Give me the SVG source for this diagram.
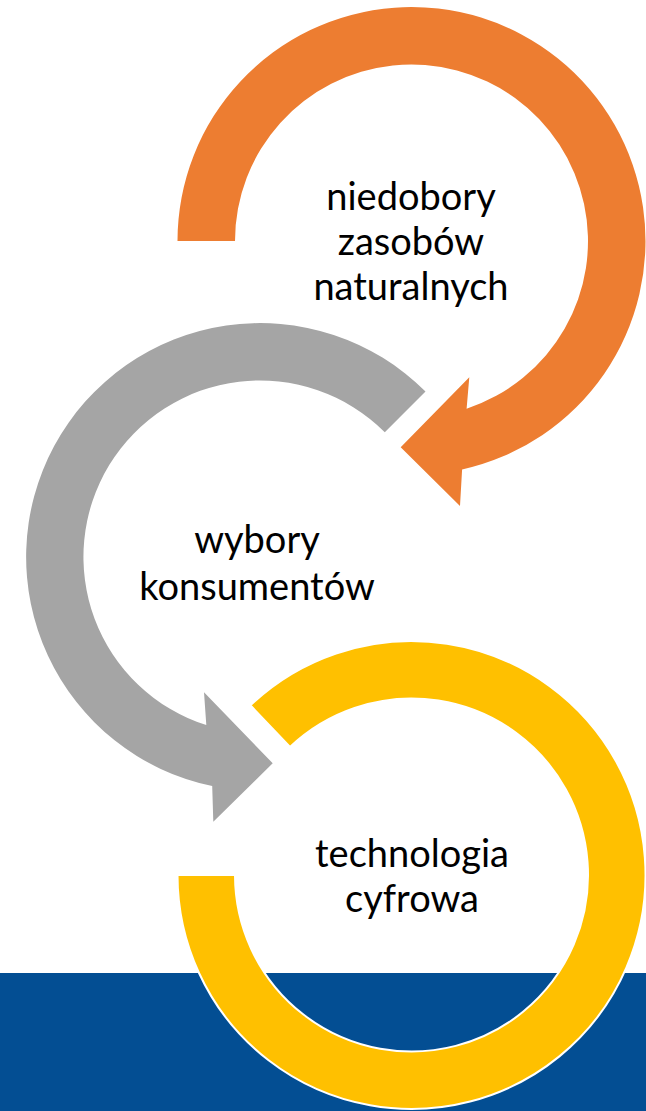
<svg xmlns="http://www.w3.org/2000/svg" width="646" height="1111" viewBox="0 0 646 1111">
  <style>
    .lbl { font-family: Lato, "Open Sans", "Liberation Sans", sans-serif; font-size: 38px; fill: #000000; text-anchor: middle; }
  </style>
  <rect x="0" y="0" width="646" height="1111" fill="#ffffff"/>
  <rect id="band" x="0" y="973" width="646" height="138" fill="#034E93"/>
  <g id="connectors">
    <path id="arrow-orange" fill="#ED7D31" d="M 177.5,241 A 234 234 0 1 1 462.1,469.5 L 460,506 L 400.7,447.3 L 469.3,377.3 L 466.6,408.7 A 176.5 176.5 0 1 0 235,241 Z"/>
    <path id="arrow-gray" fill="#A5A5A5" d="M 425.5,391.5 A 234 234 0 1 0 212.2,786.1 L 213.3,821.7 L 272.7,763.3 L 204,692.3 L 206.3,725.1 A 176.5 176.5 0 1 1 384.8,432.2 Z"/>
    <path id="arrow-yellow" fill="#FFC000" stroke="#ffffff" stroke-width="2" d="M 250.4,705.3 A 234 234 0 1 1 177.5,875 L 235,875 A 176.5 176.5 0 1 0 290,747 Z"/>
  </g>
  <g id="node-niedobory">
    <text class="lbl" x="411" y="210">niedobory</text>
    <text class="lbl" x="411" y="255">zasobów</text>
    <text class="lbl" x="411" y="300">naturalnych</text>
  </g>
  <g id="node-wybory">
    <text class="lbl" x="257" y="553">wybory</text>
    <text class="lbl" x="257" y="600">konsumentów</text>
  </g>
  <g id="node-technologia">
    <text class="lbl" x="412" y="867">technologia</text>
    <text class="lbl" x="412" y="912">cyfrowa</text>
  </g>
</svg>
